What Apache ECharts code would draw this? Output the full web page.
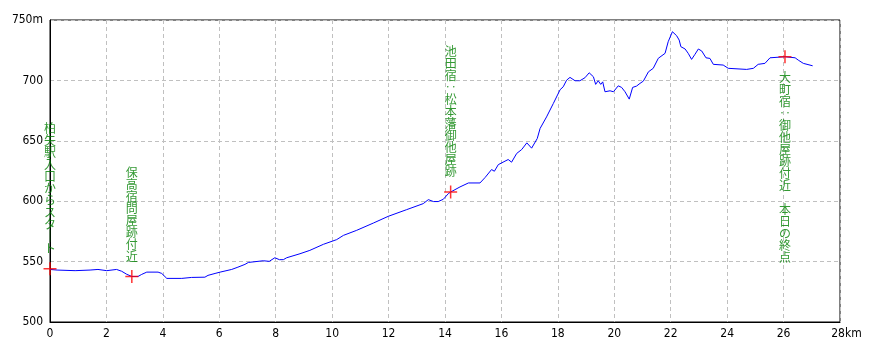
<!DOCTYPE html>
<html>
<head>
<meta charset="utf-8">
<script src="https://cdn.jsdelivr.net/npm/echarts@6/dist/echarts.min.js"></script>
<style>
html,body{margin:0;padding:0;background:#fff;}
#c{width:880px;height:352px;}
</style>
</head>
<body>
<div id="c"></div>
<script>
// distance (km)
var distKm = [0,0.25,0.89,1.42,1.70,2.01,2.36,2.54,2.72,2.90,3.12,3.25,3.43,3.83,3.96,4.14,4.67,5.02,5.49,5.60,5.85,6.03,6.44,6.66,6.91,7.03,7.56,7.77,7.97,8.13,8.27,8.39,8.86,9.21,9.69,10.16,10.40,10.87,11.46,11.99,12.64,13.23,13.41,13.59,13.76,13.94,14.12,14.20,14.53,14.83,15.24,15.42,15.65,15.75,15.89,16.24,16.36,16.54,16.72,16.90,16.95,17.07,17.13,17.27,17.37,17.60,17.84,18.08,18.19,18.31,18.43,18.61,18.78,18.96,19.11,19.26,19.34,19.43,19.52,19.59,19.67,19.85,19.97,20.14,20.26,20.38,20.53,20.65,20.79,20.91,21.03,21.21,21.38,21.56,21.80,21.91,22.06,22.21,22.30,22.36,22.51,22.62,22.74,22.86,22.98,23.10,23.25,23.39,23.51,23.86,24.04,24.69,24.93,25.10,25.34,25.52,26.05,26.41,26.52,26.70,27.03];
// elevation (m)
var elevM = [543.5,543,542.5,543,543.5,542.5,543.5,542,539.5,537.7,537.7,539.4,541.3,541.3,540.2,536.1,536.1,536.9,537.1,538.6,540.2,541.3,543.5,545.4,547.7,549.3,550.7,550.2,553.2,551.6,551.6,553.2,556.5,559.3,564.3,568.2,571.7,575.9,581.9,587.5,593.0,598.0,601.3,599.7,599.7,601.6,606.3,607.6,611.8,615.1,615.1,619.6,626.2,624.8,630.3,634.5,632.3,639.5,642.8,648.3,647.2,643.9,643.9,651.9,660.2,669.8,680.9,692.3,694.7,700.2,702.5,699.7,699.7,702.2,706.3,703,696.7,699.7,696.7,698.8,690.6,691.4,690.6,695.5,694.2,690.6,684.5,694.2,695.3,697.5,699.4,707.1,710.0,718.3,722.4,732.0,740.3,737.0,733.4,727.9,726,722.4,717.4,721.6,726,724.3,718.7,718.2,713.3,712.7,710,709.1,710,713.3,714.1,718.7,719.6,718.7,716.8,714.1,712.1];

// waypoints
var wpKm = [0, 2.90, 14.20, 26.05];
var wpElev = [544, 537.7, 607.6, 719.6];
var wpNames = [
  "柏矢駅入口からスタート",
  "保高宿問屋跡付近",
  "池田宿：松本藩御他屋跡",
  "大町宿：御他屋跡付近　本日の終点"
];
var wpBelow = [false, false, false, true];

// axis ticks
var xTicks = [0,2,4,6,8,10,12,14,16,18,20,22,24,26,28];
var yTicks = [500,550,600,650,700,750];
var xUnit = "km", yUnit = "m";

function vertical(s){
  var out = [];
  for (var i=0;i<s.length;i++){
    var ch = s[i];
    if (ch === "ー") ch = "｜";
    else if (ch === "：") ch = "‥";
    out.push(ch);
  }
  return out.join("\n");
}

var lineData = distKm.map(function(d,i){ return [d, elevM[i]]; });
var wpData = wpKm.map(function(d,i){
  return {
    value:[d, wpElev[i]],
    label:{
      position: wpBelow[i] ? 'bottom' : 'top',
      distance: 7,
      formatter: vertical(wpNames[i])
    }
  };
});

var axisFont = "'Liberation Sans Narrow','DejaVu Sans Condensed','Liberation Sans',sans-serif";

var chart = echarts.init(document.getElementById('c'), null, {renderer:'canvas'});
chart.setOption({
  animation:false,
  backgroundColor:'#ffffff',
  grid:{left:50,right:40,top:20,bottom:30,show:true,borderColor:'#000',borderWidth:1,backgroundColor:'transparent'},
  xAxis:{
    type:'value', min:xTicks[0], max:xTicks[xTicks.length-1], interval:2,
    axisLine:{show:true,lineStyle:{color:'#000',width:1}},
    axisTick:{show:false},
    splitLine:{show:true,lineStyle:{color:'#c0c0c0',type:[4,3],width:1}},
    axisLabel:{
      color:'#000', fontSize:12, fontFamily:axisFont, margin:6,
      formatter:function(v){ return v===xTicks[xTicks.length-1] ? '{s|}'+v+xUnit : String(v); },
      rich:{s:{width:13,fontSize:12,fontFamily:axisFont}}
    }
  },
  yAxis:{
    type:'value', min:yTicks[0], max:yTicks[yTicks.length-1], interval:50,
    axisLine:{show:true,lineStyle:{color:'#000',width:1}},
    axisTick:{show:false},
    splitLine:{show:true,lineStyle:{color:'#c0c0c0',type:[4,3],width:1}},
    axisLabel:{
      color:'#000', fontSize:12, fontFamily:axisFont, margin:7,
      formatter:function(v){ return v===yTicks[yTicks.length-1] ? v+yUnit : String(v); }
    }
  },
  series:[
    {
      type:'line', data:lineData, showSymbol:false, symbol:'none',
      lineStyle:{color:'#0000ff',width:1}, z:3
    },
    {
      type:'scatter', data:wpData,
      symbol:'path://M6,0 L6,12 M0,6 L12,6',
      symbolSize:13,
      itemStyle:{color:'transparent',borderColor:'#ff0000',borderWidth:1.5},
      label:{show:true,color:'#008000',fontSize:12,lineHeight:12,
        fontFamily:"'Noto Sans CJK JP',sans-serif",align:'center'},
      z:4
    }
  ]
});
</script>
</body>
</html>
